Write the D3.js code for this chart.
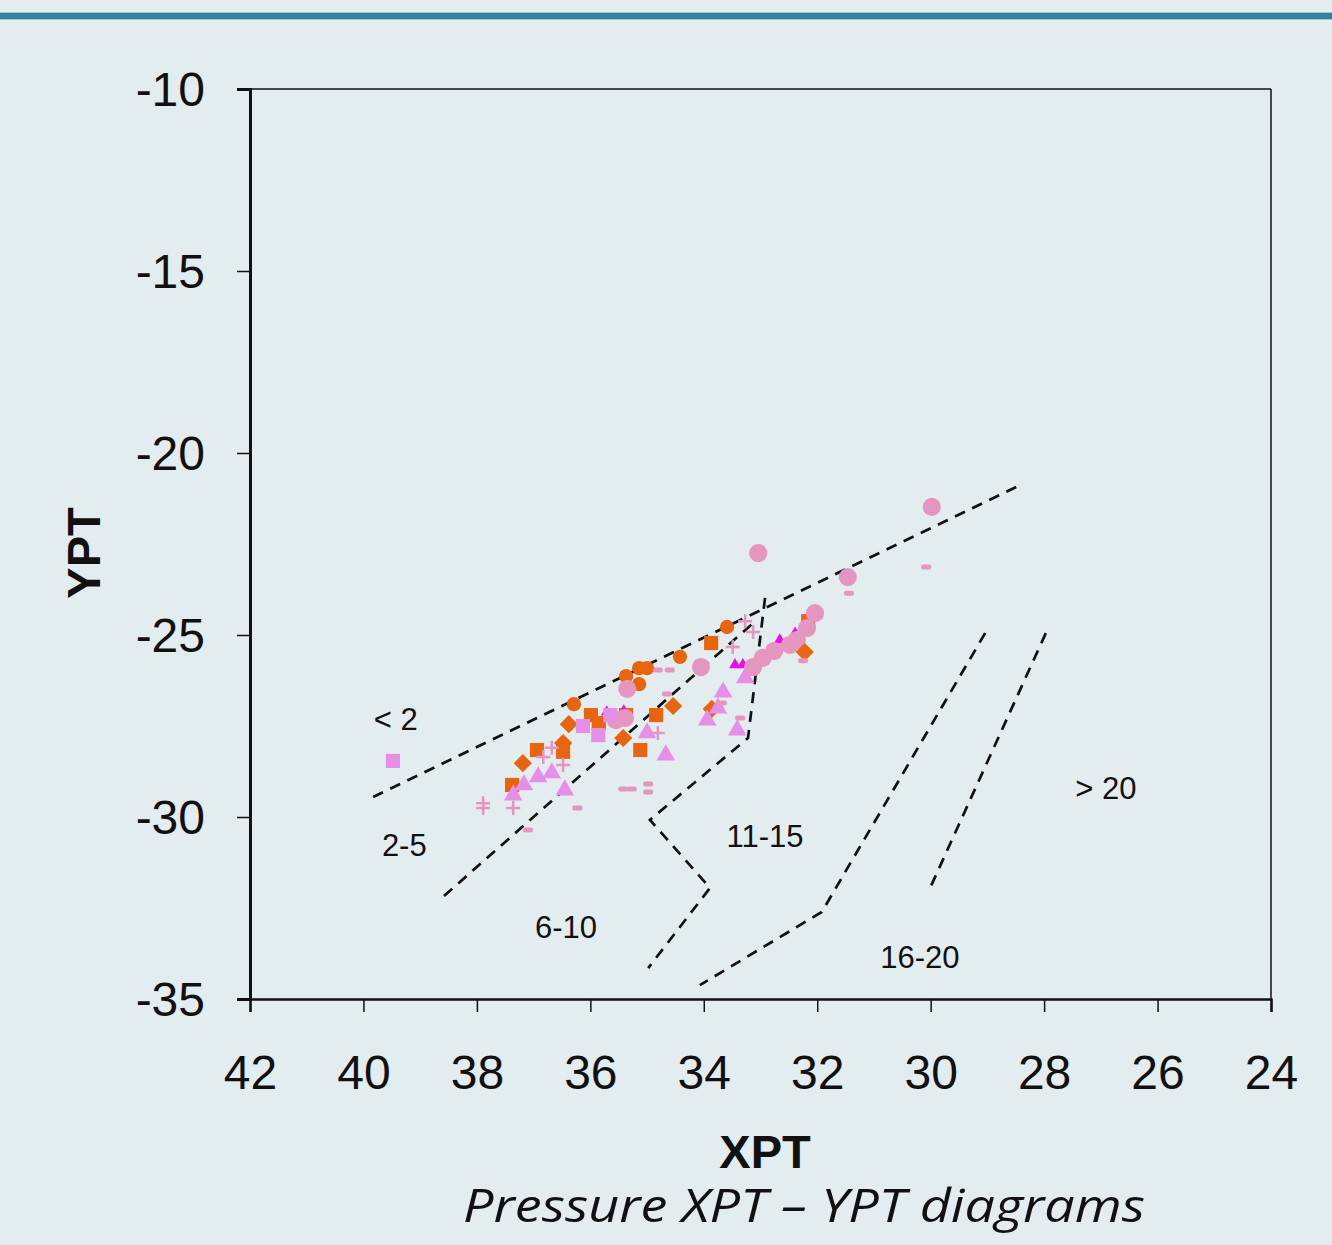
<!DOCTYPE html>
<html><head><meta charset="utf-8">
<script src="https://cdn.jsdelivr.net/npm/d3@7"></script>
<style>
html,body{margin:0;padding:0;background:#E3ECEE;}
svg{display:block;}
</style></head>
<body>
<svg id="chart" width="1332" height="1245"></svg>
<script>
// ---- data ----
const xTicks = [42, 40, 38, 36, 34, 32, 30, 28, 26, 24];
const yTicks = [-10, -15, -20, -25, -30, -35];

const orangeSquares = [[37.38,-29.12],[36.94,-28.16],[36.48,-28.21],[35.99,-27.20],[35.85,-27.42],[35.37,-27.20],[34.84,-27.20],[35.12,-28.16],[33.87,-25.22],[32.16,-24.62]];
const orangeCircles = [[36.29,-26.90],[35.37,-26.13],[35.14,-25.91],[35.00,-25.91],[35.14,-26.35],[34.42,-25.60],[33.59,-24.78]];
const orangeDiamonds = [[37.19,-28.52],[36.48,-27.97],[36.38,-27.45],[35.42,-27.83],[34.54,-26.95],[33.86,-27.03],[32.22,-25.47]];
const violetSquares = [[39.48,-28.46],[36.13,-27.50],[35.86,-27.75],[35.65,-27.20]];
const violetTriangles = [[37.36,-29.40],[37.17,-29.12],[36.92,-28.90],[36.68,-28.79],[36.45,-29.26],[35.00,-27.69],[34.67,-28.30],[33.94,-27.34],[33.75,-27.01],[33.66,-26.57],[33.41,-27.61],[33.27,-26.18]];
const magentaTriangles = [[35.71,-27.12],[35.41,-27.09],[33.45,-25.82],[33.31,-25.82],[32.66,-25.14],[32.39,-24.95]];
const pinkCircles = [[29.98,-21.48],[33.04,-22.75],[31.46,-23.41],[32.04,-24.40],[32.18,-24.81],[32.36,-25.14],[32.48,-25.27],[32.76,-25.44],[32.96,-25.63],[33.13,-25.88],[34.05,-25.88],[35.35,-26.48],[35.39,-27.28],[35.55,-27.34]];
const pinkPlus = [[37.89,-29.62],[37.89,-29.75],[37.36,-29.75],[36.83,-28.35],[36.68,-28.10],[36.48,-28.57],[34.81,-27.69],[33.27,-24.62],[33.13,-24.92],[33.49,-25.33]];
const pinkDashes = [[37.10,-30.36],[36.23,-29.75],[35.42,-29.23],[35.27,-29.23],[34.98,-29.09],[34.98,-29.31],[34.81,-25.96],[34.60,-25.96],[34.65,-26.62],[33.68,-26.87],[33.36,-27.28],[32.25,-25.71],[31.44,-23.85],[30.08,-23.13]];

// boundary lines (dashed)
const boundary1 = [[39.83,-29.45],[28.46,-20.91]];
const boundary2 = [[38.58,-32.17],[33.15,-24.70]];
const boundary3 = [[32.92,-23.98],[33.22,-27.83],[34.95,-30.08],[33.89,-31.95],[34.98,-34.15]];
const boundary4 = [[29.04,-24.95],[31.92,-32.61],[34.07,-34.62]];
const boundary5 = [[27.97,-24.95],[30.01,-31.95]];

const regionLabels = ["< 2","2-5","6-10","11-15","16-20","> 20"];
const regionLabelPos = [[39.43,-27.31],[39.28,-30.77],[36.43,-33.02],[32.92,-30.52],[30.19,-33.85],[26.91,-29.20]];

const xTitle = "XPT";
const yTitle = "YPT";
const caption = "Pressure XPT \u2013 YPT diagrams";

// ---- layout ----
const svg = d3.select("#chart");
const L = 250, R = 1271, T = 89, B = 999;
const x = d3.scaleLinear().domain([42, 24]).range([L, R]);
const y = d3.scaleLinear().domain([-10, -35]).range([T, B]);
const fmt = d => String(d);

// background + top bar
svg.append("rect").attr("width",1332).attr("height",1245).attr("fill","#E3ECEE");
svg.append("rect").attr("x",0).attr("y",12).attr("width",1332).attr("height",8).attr("fill","#A9C6CE");
svg.append("rect").attr("x",0).attr("y",13).attr("width",1332).attr("height",6).attr("fill","#2E8299");

// frame: top & right thin
svg.append("line").attr("x1",L).attr("x2",R).attr("y1",T).attr("y2",T).attr("stroke","#111").attr("stroke-width",1.5);
svg.append("line").attr("x1",R).attr("x2",R).attr("y1",T).attr("y2",B).attr("stroke","#111").attr("stroke-width",1.5);

// axes
const xAxis = d3.axisBottom(x).tickValues(xTicks).tickSize(13).tickPadding(43).tickFormat(fmt);
const gx = svg.append("g").attr("transform",`translate(0,${B})`).call(xAxis);
gx.select(".domain").attr("stroke","#111").attr("stroke-width",2.5);
gx.selectAll(".tick line").attr("stroke","#111").attr("stroke-width",1.5);
gx.selectAll(".tick text").attr("font-family","'Liberation Sans', Arial, sans-serif").attr("font-size",48).attr("fill","#111");

const yAxis = d3.axisLeft(y).tickValues(yTicks).tickSize(13).tickPadding(32).tickFormat(fmt);
const gy = svg.append("g").attr("transform",`translate(${L},0)`).call(yAxis);
gy.select(".domain").attr("stroke","#111").attr("stroke-width",3);
gy.selectAll(".tick line").attr("stroke","#111").attr("stroke-width",1.5);
gy.selectAll(".tick text").attr("font-family","'Liberation Sans', Arial, sans-serif").attr("font-size",48).attr("fill","#111").attr("dy","0.35em");

// titles
svg.append("text").attr("x",765).attr("y",1168).attr("text-anchor","middle")
  .attr("font-family","'Liberation Sans', Arial, sans-serif").attr("font-weight","bold").attr("font-size",47).attr("fill","#111").text(xTitle);
svg.append("text").attr("transform","translate(100,553) rotate(-90)").attr("text-anchor","middle")
  .attr("font-family","'Liberation Sans', Arial, sans-serif").attr("font-weight","bold").attr("font-size",47).attr("fill","#111").text(yTitle);
svg.append("text").attr("x",463).attr("y",1222)
  .attr("font-family","'Open Sans', sans-serif").attr("font-style","italic").attr("font-size",45).attr("fill","#111")
  .attr("textLength",682).attr("lengthAdjust","spacingAndGlyphs").text(caption);

// boundary dashed lines
const line = d3.line().x(d=>x(d[0])).y(d=>y(d[1]));
[boundary1,boundary2,boundary3,boundary4,boundary5].forEach(b=>{
  svg.append("path").attr("d",line(b)).attr("fill","none").attr("stroke","#111")
    .attr("stroke-width",2.7).attr("stroke-dasharray","11,8");
});

// region labels
svg.append("g").selectAll("text").data(regionLabels).join("text")
  .attr("x",(d,i)=>x(regionLabelPos[i][0])).attr("y",(d,i)=>y(regionLabelPos[i][1]))
  .attr("dy","0.35em").attr("text-anchor","middle")
  .attr("font-family","'Liberation Sans', Arial, sans-serif").attr("font-size",31).attr("fill","#111")
  .text(d=>d);

// markers
const ORANGE = "#E8650F", VIOLET = "#E68FE8", MAGENTA = "#E80FE6", PINK = "#E596C0";
function symbols(data, type, size, color, rot){
  svg.append("g").selectAll("path").data(data).join("path")
    .attr("d", d3.symbol().type(type).size(size))
    .attr("transform", d=>`translate(${x(d[0])},${y(d[1])})` + (rot?` rotate(${rot})`:""))
    .attr("fill", color);
}
symbols(orangeSquares, d3.symbolSquare, 200, ORANGE);
symbols(orangeCircles, d3.symbolCircle, 160, ORANGE);
symbols(magentaTriangles, d3.symbolTriangle, 60, MAGENTA);
symbols(pinkCircles, d3.symbolCircle, 260, PINK);
symbols(orangeDiamonds, d3.symbolSquare, 165, ORANGE, 45);
symbols(violetSquares, d3.symbolSquare, 200, VIOLET);
symbols(violetTriangles, d3.symbolTriangle, 150, VIOLET);

// plus markers
svg.append("g").selectAll("path").data(pinkPlus).join("path")
  .attr("d", d=>{const cx=x(d[0]), cy=y(d[1]); return `M${cx-7},${cy}H${cx+7}M${cx},${cy-7}V${cy+7}`;})
  .attr("stroke", PINK).attr("stroke-width",2.5).attr("fill","none");

// dash markers
svg.append("g").selectAll("rect").data(pinkDashes).join("rect")
  .attr("x", d=>x(d[0])-5).attr("y", d=>y(d[1])-2.5).attr("width",10).attr("height",5).attr("rx",2)
  .attr("fill", PINK);
</script>
</body></html>
